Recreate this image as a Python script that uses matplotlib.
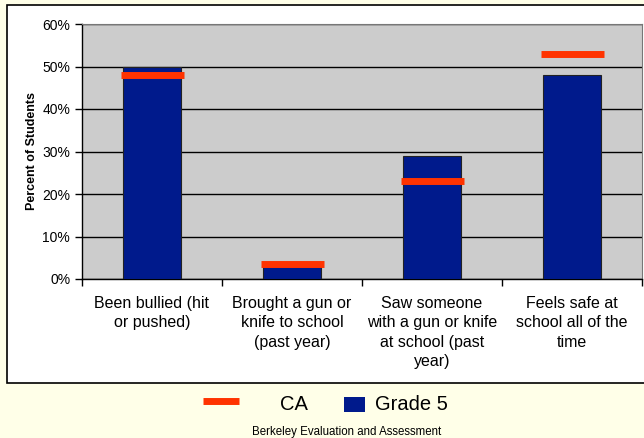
import numpy as np
import matplotlib.pyplot as plt
from matplotlib.patches import Rectangle
from matplotlib.lines import Line2D

plt.rcParams['font.family'] = ['Liberation Sans', 'DejaVu Sans']

categories = ["Been bullied (hit\nor pushed)",
              "Brought a gun or\nknife to school\n(past year)",
              "Saw someone\nwith a gun or knife\nat school (past\nyear)",
              "Feels safe at\nschool all of the\ntime"]
grade5 = [50, 3, 29, 48]
ca = [48, 3.5, 23, 53]

W, H = 644, 438
fig = plt.figure(figsize=(W / 100, H / 100), dpi=100)
fig.patch.set_facecolor('#FFFFE8')

# white chart box
box = Rectangle((7 / W, 1 - 383 / H), 660 / W, 378 / H,
                transform=fig.transFigure, facecolor='white',
                edgecolor='black', linewidth=1.2, zorder=-5)
fig.patches.append(box)

ax = fig.add_axes([82 / W, 1 - 279 / H, 560 / W, 255 / H])
ax.set_facecolor('#CCCCCC')

x = np.arange(len(categories))
ax.bar(x, grade5, width=0.41, color='#001A8C', edgecolor='#222222',
       linewidth=0.8, zorder=3)
for xi, v in zip(x, ca):
    ax.plot([xi - 0.225, xi + 0.225], [v, v], color='#FF3300',
            linewidth=5, solid_capstyle='butt', zorder=4)

ax.set_xlim(-0.5, 3.5)
ax.set_ylim(0, 60)
ax.set_yticks(range(0, 61, 10))
ax.set_yticklabels([f"{t}%" for t in range(0, 61, 10)], fontsize=10)
ax.yaxis.grid(True, color='black', linewidth=1)
ax.set_axisbelow(True)
ax.set_xticks(np.arange(-0.5, 4, 1))
ax.set_xticklabels([])
ax.set_xticks(x, minor=True)
ax.set_xticklabels(categories, minor=True, fontsize=11.5, va='top',
                   linespacing=1.38)
ax.tick_params(axis='x', which='minor', length=0, pad=12)
ax.tick_params(axis='x', which='major', length=5, width=1)
ax.tick_params(axis='y', length=5, width=1)
for s in ['top', 'right']:
    ax.spines[s].set_color('#777777')
ax.spines['left'].set_linewidth(1)
ax.spines['bottom'].set_linewidth(1)
ax.set_ylabel("Percent of Students", fontsize=9, fontweight='bold', labelpad=3)

# legend drawn by hand to match handle sizes
fig.lines.append(Line2D([203 / W, 239 / W], [1 - 401 / H, 1 - 401 / H],
                        transform=fig.transFigure, color='#FF3300',
                        linewidth=5, solid_capstyle='butt'))
fig.text(280 / W, 1 - 405 / H, "CA", ha='left', va='center', fontsize=14.5)
fig.patches.append(Rectangle((344 / W, 1 - 412 / H), 21 / W, 15 / H,
                             transform=fig.transFigure, facecolor='#001A8C'))
fig.text(375 / W, 1 - 405 / H, "Grade 5", ha='left', va='center', fontsize=14.5)
fig.text(347 / W, 1 - 432 / H, "Berkeley Evaluation and Assessment",
         ha='center', va='center', fontsize=8.3)

fig.savefig('out.png', dpi=100, facecolor=fig.get_facecolor())
